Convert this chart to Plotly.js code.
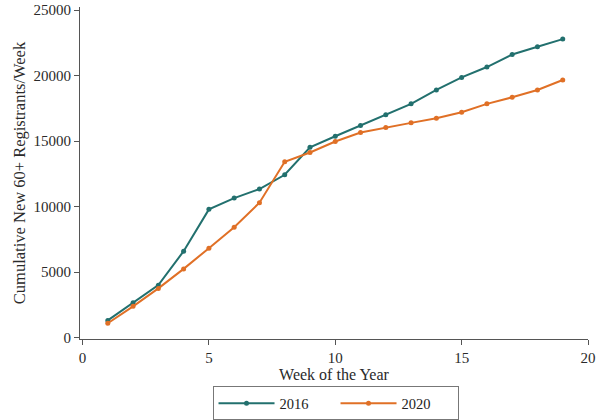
<!DOCTYPE html>
<html>
<head>
<meta charset="utf-8">
<script src="https://cdn.plot.ly/plotly-3.0.1.min.js"></script>
<style>html,body{margin:0;padding:0;background:#fff;}#chart{width:605px;height:420px;}</style>
</head>
<body>
<div id="chart"></div>
<script>
var weeks = [1,2,3,4,5,6,7,8,9,10,11,12,13,14,15,16,17,18,19];
var series2016 = [1320,2660,4010,6600,9790,10650,11340,12430,14530,15370,16190,17000,17840,18900,19860,20650,21610,22200,22780];
var series2020 = [1100,2390,3760,5250,6830,8420,10300,13420,14130,14970,15650,16040,16390,16740,17200,17840,18340,18900,19660];
var xTicks = [0,5,10,15,20];
var yTicks = [0,5000,10000,15000,20000,25000];

var FONT = 'Liberation Serif, Times New Roman, serif';
var tealColor = '#22706e';
var orangeColor = '#e07026';

var traces = [
  {x: weeks, y: series2016, name: '2016', type: 'scatter', mode: 'lines+markers',
   line: {color: tealColor, width: 2}, marker: {color: tealColor, size: 5}},
  {x: weeks, y: series2020, name: '2020', type: 'scatter', mode: 'lines+markers',
   line: {color: orangeColor, width: 2}, marker: {color: orangeColor, size: 5}}
];

var layout = {
  width: 605, height: 420,
  margin: {l: 80, r: 17, t: 7, b: 81, pad: 0},
  paper_bgcolor: '#fff', plot_bgcolor: '#fff',
  font: {family: FONT, size: 15, color: '#2a2a2a'},
  showlegend: true,
  legend: {
    orientation: 'h', xref: 'paper', x: 0.503, xanchor: 'center',
    yref: 'container', y: 0.08, yanchor: 'top',
    bordercolor: '#777', borderwidth: 1, entrywidth: 51, itemwidth: 56,
    font: {family: FONT, size: 14.5, color: '#222'}
  },
  xaxis: {
    range: [-0.1, 20], tickvals: xTicks, ticktext: xTicks.map(String),
    showgrid: false, zeroline: false, showline: true, linecolor: '#555', linewidth: 1,
    ticks: 'outside', ticklen: 5, tickcolor: '#555',
    tickfont: {family: FONT, size: 15, color: '#2a2a2a'},
    title: {text: 'Week of the Year', font: {family: FONT, size: 16, color: '#2a2a2a'}, standoff: 2}
  },
  yaxis: {
    range: [-100, 25230], tickvals: yTicks, ticktext: yTicks.map(String),
    showgrid: false, zeroline: false, showline: true, linecolor: '#555', linewidth: 1,
    ticks: 'outside', ticklen: 5, tickcolor: '#555',
    tickfont: {family: FONT, size: 15, color: '#2a2a2a'},
    title: {text: 'Cumulative New 60+ Registrants/Week', font: {family: FONT, size: 16.5, color: '#2a2a2a'}, standoff: 3}
  }
};

Plotly.newPlot('chart', traces, layout, {displayModeBar: false, staticPlot: true});
</script>
</body>
</html>
